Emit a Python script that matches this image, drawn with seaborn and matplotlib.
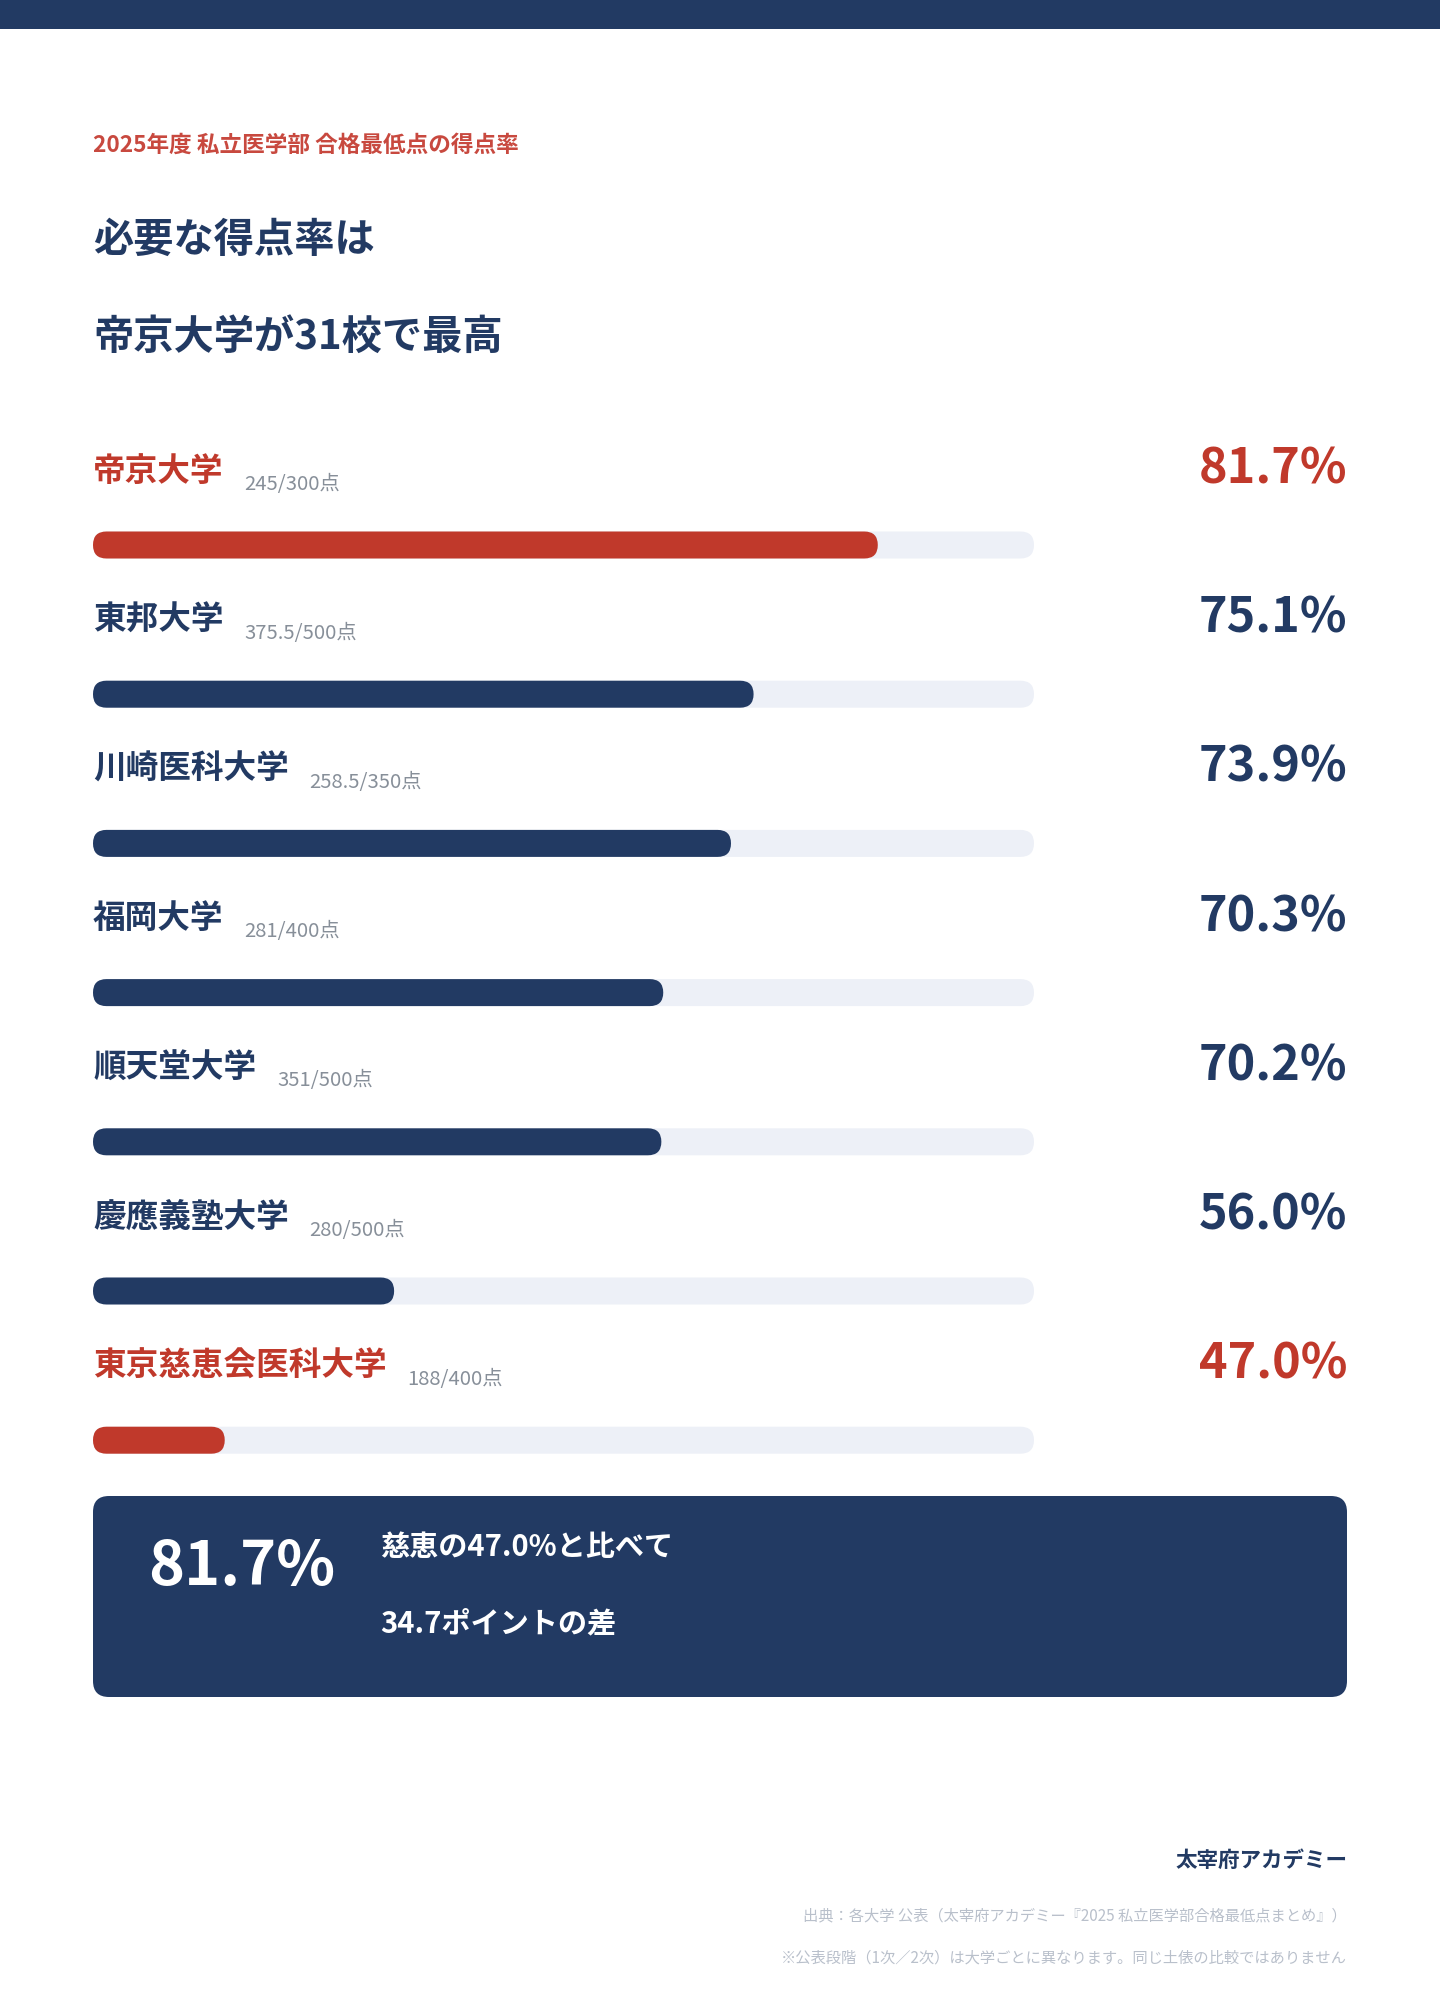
import pandas as pd
import matplotlib
matplotlib.use("Agg")
import matplotlib.pyplot as plt
import matplotlib.transforms as mtransforms
from matplotlib.patches import FancyBboxPatch, Rectangle
import seaborn as sns

# data
schools = ["帝京大学", "東邦大学", "川崎医科大学", "福岡大学", "順天堂大学", "慶應義塾大学", "東京慈恵会医科大学"]
scores = ["245/300点", "375.5/500点", "258.5/350点", "281/400点", "351/500点", "280/500点", "188/400点"]
rates = [81.7, 75.1, 73.9, 70.3, 70.2, 56.0, 47.0]
highlight = [True, False, False, False, False, False, True]
axis_min, axis_max = 40, 90

NAVY = "#223a63"
RED = "#c0392b"
TRACK = "#edf0f7"
GRAY = "#878f99"
LIGHT = "#b9c0cb"

sns.set_theme(style="white")
plt.rcParams["font.family"] = ["Noto Sans CJK JP", "DejaVu Sans"]

W, H = 1440, 2000
fig = plt.figure(figsize=(W / 100, H / 100), dpi=100)
fig.patch.set_facecolor("white")

# page layer, pixel coordinates
page = fig.add_axes([0, 0, 1, 1])
page.set_xlim(0, W)
page.set_ylim(H, 0)
page.axis("off")

# bar layer
ROW0, STEP = 545, 149.2
LEFT, RIGHT = 93, 1034
y_top, y_bot = -1.0, 6.3
ax = fig.add_axes([LEFT / W, 1 - (ROW0 + y_bot * STEP) / H,
                   (RIGHT - LEFT) / W, (y_bot - y_top) * STEP / H])

df = pd.DataFrame({"school": schools, "rate": rates, "score": scores})
colors = [RED if h else NAVY for h in highlight]
BAR_H = 27 / STEP

sns.barplot(data=df, x="rate", y="school", hue="school", palette=colors,
            legend=False, orient="h", width=BAR_H, saturation=1, ax=ax)
ax.set_xlim(axis_min, axis_max)
ax.set_ylim(y_bot, y_top)
ax.axis("off")

px_x = ax.transData.transform((1, 0))[0] - ax.transData.transform((0, 0))[0]
px_y = abs(ax.transData.transform((0, 1))[1] - ax.transData.transform((0, 0))[1])


def pill(x0, x1, yc, h, color, z):
    r = 0.999 * (h * px_y / 2) / px_x
    p = FancyBboxPatch((x0, yc - h / 2), x1 - x0, h,
                       boxstyle=f"round,pad=0,rounding_size={r}",
                       mutation_aspect=px_x / px_y,
                       fc=color, ec="none", zorder=z)
    ax.add_patch(p)


# background tracks
for i in range(len(schools)):
    pill(axis_min, axis_max, i, BAR_H, TRACK, 1)

# turn seaborn bars into rounded pills starting at the axis minimum
for patch in list(ax.patches):
    if isinstance(patch, FancyBboxPatch):
        continue
    yc = patch.get_y() + patch.get_height() / 2
    w = patch.get_width()
    fc = patch.get_facecolor()
    patch.remove()
    pill(axis_min, w, yc, BAR_H, fc, 2)

blend = mtransforms.blended_transform_factory(ax.transAxes, ax.transData)
pct_x = (1347 - LEFT) / (RIGHT - LEFT)

for i, row in df.iterrows():
    c = colors[i]
    lab = ax.text(axis_min, i - 74 / STEP, row["school"], fontsize=23.5,
                  fontweight="bold", color=c, ha="left", va="center", clip_on=False)
    ax.annotate(row["score"], xy=(1, 0.5), xycoords=lab, xytext=(15, -9.5),
                textcoords="offset points", fontsize=14.6, color=GRAY,
                ha="left", va="center")
    ax.text(pct_x, i - 76 / STEP, f"{row['rate']:.1f}%", transform=blend,
            fontsize=35, fontweight="bold", color=c, ha="right", va="center",
            clip_on=False)

# header
page.add_patch(Rectangle((0, 0), W, 29, fc=NAVY, ec="none"))
page.text(93, 145, "2025年度 私立医学部 合格最低点の得点率", fontsize=16.3,
          fontweight="bold", color="#c8493f", va="center")
page.text(93, 240, "必要な得点率は", fontsize=29, fontweight="bold", color=NAVY, va="center")
page.text(93, 337, "帝京大学が31校で最高", fontsize=29, fontweight="bold", color=NAVY, va="center")

# summary box
page.add_patch(FancyBboxPatch((93, 1496), 1254, 201,
                              boxstyle="round,pad=0,rounding_size=16",
                              fc=NAVY, ec="none"))
page.text(148, 1567, f"{rates[0]:.1f}%", fontsize=44, fontweight="bold",
          color="white", va="center")
page.text(380, 1547, f"慈恵の{rates[-1]:.1f}%と比べて", fontsize=21,
          fontweight="bold", color="white", va="center")
page.text(380, 1623, f"{rates[0] - rates[-1]:.1f}ポイントの差", fontsize=21,
          fontweight="bold", color="white", va="center")

# footer
page.text(1347, 1860, "太宰府アカデミー", fontsize=15.5, fontweight="bold",
          color=NAVY, ha="right", va="center")
page.text(1347, 1916, "出典：各大学 公表（太宰府アカデミー『2025 私立医学部合格最低点まとめ』）",
          fontsize=11, color=LIGHT, ha="right", va="center")
page.text(1347, 1958, "※公表段階（1次／2次）は大学ごとに異なります。同じ土俵の比較ではありません",
          fontsize=11, color=LIGHT, ha="right", va="center")

fig.savefig("out.png", dpi=100)
